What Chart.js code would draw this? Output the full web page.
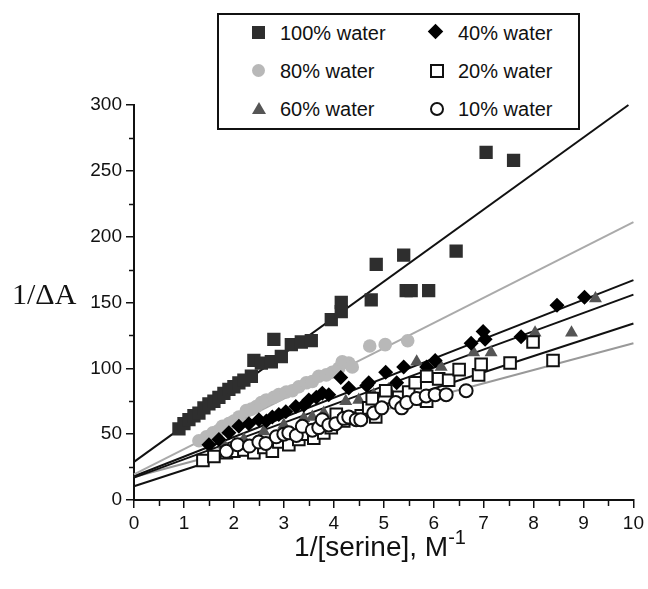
<!DOCTYPE html>
<html>
<head>
<meta charset="utf-8">
<script src="https://cdn.jsdelivr.net/npm/chart.js@4.4.1/dist/chart.umd.min.js"></script>
<style>
body { margin: 0; background: #fff; }
#wrap { position: relative; width: 648px; height: 589px; }
#legend { position: absolute; left: 217px; top: 13px; width: 359px; height: 113px; border: 2px solid #111; background: #fff; font: 20px "Liberation Sans", Arial, sans-serif; color: #111; }
.item { position: absolute; line-height: 20px; white-space: nowrap; }
.mk { position: absolute; box-sizing: border-box; }
#ytitle { position: absolute; left: 12px; top: 279px; font: 30px "Liberation Serif", "Times New Roman", serif; line-height: 30px; color: #111; }
#xtitle { position: absolute; left: 0; width: 760px; top: 531px; text-align: center; font: 28px "Liberation Sans", Arial, sans-serif; line-height: 32px; color: #111; }
#xtitle sup { font-size: 20px; vertical-align: 12px; line-height: 0; }
</style>
</head>
<body>
<div id="wrap">
  <canvas id="chartOne" width="648" height="589"></canvas>
  <div id="legend"></div>
  <div id="ytitle">1/ΔA</div>
  <div id="xtitle">1/[serine], M<sup>-1</sup></div>
</div>
<script>
// series names
let seriesNames = ['100% water', '80% water', '60% water', '40% water', '20% water', '10% water'];

// 1/[serine] values (x) and 1/dA values (y)
let x100 = [0.9, 1.0, 1.1, 1.2, 1.3, 1.4, 1.5, 1.6, 1.7, 1.8, 1.9, 2.0, 2.1, 2.2, 2.35, 2.4, 2.55, 2.75, 2.8, 2.95, 3.15, 3.35, 3.55, 3.95, 4.15, 4.15, 4.75, 4.85, 5.4, 5.45, 5.55, 5.9, 6.45, 7.05, 7.6];
let y100 = [54, 58, 61, 64, 66, 70, 73, 75, 78, 81, 84, 86, 89, 91, 94, 106, 104, 105, 122, 109, 118, 120, 121, 137, 143, 150, 152, 179, 186, 159, 159, 159, 189, 264, 258];

let x80 = [1.3, 1.45, 1.58, 1.7, 1.77, 1.9, 2.0, 2.1, 2.25, 2.35, 2.45, 2.55, 2.65, 2.8, 2.9, 3.05, 3.17, 3.3, 3.45, 3.57, 3.7, 3.85, 3.97, 4.1, 4.17, 4.3, 4.37, 4.72, 5.03, 5.48];
let y80 = [45, 48, 51, 53, 56, 58, 60, 63, 68, 69, 71, 74, 76, 78, 80, 82, 83, 86, 89, 90, 94, 95, 97, 100, 105, 104, 101, 117, 118, 121];

let x60 = [1.8, 2.2, 2.6, 3.0, 3.4, 3.57, 3.8, 4.24, 4.5, 4.8, 5.1, 5.66, 5.83, 6.15, 6.8, 7.15, 8.03, 8.76, 9.24];
let y60 = [42, 46, 52, 57, 62, 63, 66, 75, 76, 80, 84, 105, 74, 101, 112, 112, 127, 127, 153];

let x40 = [1.5, 1.7, 1.9, 2.1, 2.3, 2.5, 2.65, 2.77, 2.9, 3.04, 3.24, 3.4, 3.5, 3.65, 3.77, 3.9, 4.14, 4.3, 4.66, 4.7, 5.04, 5.26, 5.4, 5.86, 6.03, 6.75, 6.99, 7.03, 7.75, 8.47, 9.02];
let y40 = [42, 46, 51, 56, 58, 61, 60, 63, 65, 67, 71, 72, 76, 78, 81, 80, 93, 85, 87, 89, 97, 89, 101, 101, 106, 119, 128, 122, 124, 148, 154];

let x20 = [1.38, 1.6, 1.85, 2.0, 2.2, 2.4, 2.6, 2.77, 2.9, 3.1, 3.3, 3.45, 3.6, 3.8, 3.95, 4.05, 4.2, 4.4, 4.55, 4.7, 4.77, 4.84, 5.04, 5.3, 5.5, 5.63, 5.86, 5.86, 6.1, 6.3, 6.51, 6.9, 6.95, 7.53, 7.99, 8.39];
let y20 = [30, 33, 36, 37, 38, 36, 40, 37, 44, 42, 46, 50, 47, 51, 55, 65, 60, 62, 64, 70, 77, 63, 83, 78, 82, 89, 94, 75, 92, 91, 99, 95, 103, 104, 120, 106];

let x10 = [1.85, 2.07, 2.31, 2.5, 2.64, 2.85, 3.0, 3.1, 3.25, 3.37, 3.57, 3.7, 3.77, 3.9, 4.04, 4.2, 4.3, 4.45, 4.54, 4.8, 4.96, 5.24, 5.36, 5.46, 5.66, 5.85, 6.03, 6.25, 6.65];
let y10 = [37, 42, 41, 44, 43, 48, 50, 51, 49, 56, 53, 55, 61, 57, 58, 62, 63, 61, 61, 66, 70, 74, 70, 74, 77, 79, 80, 80, 83];

// fitted lines: start and end of each line, same order as seriesNames
let fitXStart = [0, 0, 0, 0, 0, 0];
let fitYStart = [29, 19.5, 17, 18, 10.5, 17.5];
let fitXEnd = [9.9, 10, 10, 10, 10, 10];
let fitYEnd = [300, 211, 156, 167, 134, 119];

// tick labels
let xTicks = [0, 1, 2, 3, 4, 5, 6, 7, 8, 9, 10];
let yTicks = [0, 50, 100, 150, 200, 250, 300];

let allX = [x100, x80, x60, x40, x20, x10];
let allY = [y100, y80, y60, y40, y20, y10];

let markStyle = [
    { pointStyle: 'rect', radius: 9.4, bg: '#2e2e2e', border: '#2e2e2e', bw: 0 },
    { pointStyle: 'circle', radius: 6.8, bg: '#b8b8b8', border: '#b8b8b8', bw: 0 },
    { pointStyle: 'triangle', radius: 7.5, bg: '#555555', border: '#555555', bw: 0 },
    { pointStyle: 'rectRot', radius: 7.5, bg: '#000000', border: '#000000', bw: 0 },
    { pointStyle: 'rect', radius: 8.2, bg: '#ffffff', border: '#111111', bw: 2 },
    { pointStyle: 'circle', radius: 6.5, bg: '#ffffff', border: '#111111', bw: 2 }
];
let lineColor = ['#111', '#aaa', '#111', '#111', '#111', '#999'];

function toPoints(xs, ys) {
    return xs.map(function(v, i) { return { x: v, y: ys[i] }; });
}

let datasets = [];
seriesNames.forEach(function(name, i) {
    datasets.push({
        label: name + ' fit',
        data: [{ x: fitXStart[i], y: fitYStart[i] }, { x: fitXEnd[i], y: fitYEnd[i] }],
        showLine: true,
        borderColor: lineColor[i],
        borderWidth: 2,
        pointRadius: 0,
        clip: false,
        order: 20
    });
    let m = markStyle[i];
    datasets.push({
        label: name,
        data: toPoints(allX[i], allY[i]),
        pointStyle: m.pointStyle,
        pointRadius: m.radius,
        pointHoverRadius: m.radius,
        backgroundColor: m.bg,
        borderColor: m.border,
        pointBorderWidth: m.bw,
        order: 6 - i
    });
});

// short minor ticks between the labelled ones
let minorTicks = {
    id: 'minorTicks',
    afterDraw: function(chart) {
        let c = chart.ctx, xs = chart.scales.x, ys = chart.scales.y, a = chart.chartArea;
        c.save();
        c.strokeStyle = '#111';
        c.lineWidth = 1.5;
        c.beginPath();
        for (let v = 25; v < 300; v += 50) {
            let p = Math.round(ys.getPixelForValue(v)) + 0.5;
            c.moveTo(a.left - 5, p); c.lineTo(a.left, p);
        }
        for (let v = 0.5; v < 10; v += 1) {
            let p = Math.round(xs.getPixelForValue(v)) + 0.5;
            c.moveTo(p, a.bottom); c.lineTo(p, a.bottom + 6);
        }
        c.stroke();
        c.restore();
    }
};

let tickFont = { family: '"Liberation Sans", Arial, sans-serif', size: 19 };

var ctx = document.getElementById('chartOne').getContext('2d');
var chartOne = new Chart(ctx, {
    type: 'scatter',
    data: { datasets: datasets },
    options: {
        responsive: false,
        animation: false,
        layout: { padding: { left: 0, right: 12, top: 105, bottom: 0 } },
        plugins: { legend: { display: false }, tooltip: { enabled: false } },
        scales: {
            x: {
                type: 'linear', min: 0, max: 10,
                afterFit: function(s) { s.height = 89; },
                afterBuildTicks: function(s) { s.ticks = xTicks.map(function(v) { return { value: v }; }); },
                ticks: { font: tickFont, color: '#111', padding: 4, maxRotation: 0, autoSkip: false },
                grid: { drawOnChartArea: false, drawTicks: true, tickLength: 8, color: '#111', lineWidth: 1.5 },
                border: { color: '#111', width: 2 }
            },
            y: {
                type: 'linear', min: 0, max: 300,
                afterFit: function(s) { s.width = 134; },
                afterBuildTicks: function(s) { s.ticks = yTicks.map(function(v) { return { value: v }; }); },
                ticks: { font: tickFont, color: '#111', padding: 4, autoSkip: false },
                grid: { drawOnChartArea: false, drawTicks: true, tickLength: 8, color: '#111', lineWidth: 1.5 },
                border: { color: '#111', width: 2 }
            }
        }
    },
    plugins: [minorTicks]
});

// legend box drawn on top of the plot
let legendPos = [[0, 0], [0, 1], [0, 2], [1, 0], [1, 1], [1, 2]];
let legendMk = [
    'width:13px;height:13px;background:#2e2e2e;',
    'width:13px;height:13px;border-radius:50%;background:#b8b8b8;',
    'width:0;height:0;border-left:7px solid transparent;border-right:7px solid transparent;border-bottom:12px solid #555;',
    'width:11px;height:11px;background:#000;transform:rotate(45deg);',
    'width:14px;height:14px;border:2px solid #111;background:#fff;',
    'width:14px;height:14px;border:2px solid #111;border-radius:50%;background:#fff;'
];
let legend = document.getElementById('legend');
seriesNames.forEach(function(name, i) {
    let col = legendPos[i][0], row = legendPos[i][1];
    let cy = 18 + row * 38;
    let mx = col === 0 ? 40 : 218;
    let tx = col === 0 ? 61 : 239;
    let mk = document.createElement('div');
    mk.className = 'mk';
    mk.style.cssText = legendMk[i] + 'left:' + (mx - 7) + 'px;top:' + (cy - 7) + 'px;';
    legend.appendChild(mk);
    let t = document.createElement('div');
    t.className = 'item';
    t.style.left = tx + 'px';
    t.style.top = (cy - 10) + 'px';
    t.textContent = name;
    legend.appendChild(t);
});
</script>
</body>
</html>
